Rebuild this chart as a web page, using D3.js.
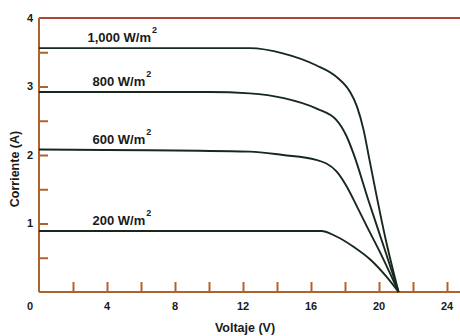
<!DOCTYPE html>
<html>
<head>
<meta charset="utf-8">
<script src="https://cdn.jsdelivr.net/npm/d3@7"></script>
<style>
  body { margin: 0; background: #fff; }
  text { font-family: "Liberation Sans", Arial, sans-serif; font-weight: bold; fill: #1a1a1a; }
</style>
</head>
<body>
<div id="wrapper"></div>
<script>
// irradiance levels, W/m2
const irradianceLabels = ["1,000", "800", "600", "200"]

// I-V curves (voltage in V, current in A)
const voltage1000 = [0, 10.6, 12.4, 14.4, 16.3, 17.5, 18.3, 18.7, 19.1, 19.4, 20.4, 21.15]
const current1000 = [3.56, 3.56, 3.56, 3.48, 3.31, 3.14, 2.92, 2.71, 2.36, 1.98, 0.76, 0]

const voltage800 = [0, 10, 12.4, 14.4, 16.3, 17.5, 18.1, 18.5, 19.4, 20.3, 21.15]
const current800 = [2.92, 2.92, 2.90, 2.83, 2.68, 2.51, 2.27, 2.02, 1.32, 0.65, 0]

const voltage600 = [0, 12.4, 14.35, 16.3, 17.5, 18.1, 18.7, 19.3, 20.1, 21.15]
const current600 = [2.08, 2.05, 2.0, 1.93, 1.76, 1.54, 1.25, 0.95, 0.56, 0]

const voltage200 = [0, 16.6, 17.5, 18.5, 19.5, 20.45, 21.15]
const current200 = [0.89, 0.89, 0.81, 0.66, 0.47, 0.22, 0]

const xTicks = [2, 4, 6, 8, 10, 12, 14, 16, 18, 20, 22, 24]
const xTickLabels = [0, 4, 8, 12, 16, 20, 24]
const yTicks = [0.5, 1, 1.5, 2, 2.5, 3, 3.5]
const yTickLabels = [1, 2, 3, 4]

function drawChart() {
  const dimensions = {
    width: 460,
    height: 336,
    margin: { top: 18, right: 13, bottom: 44, left: 39 },
  }
  dimensions.boundedWidth = dimensions.width - dimensions.margin.left - dimensions.margin.right
  dimensions.boundedHeight = dimensions.height - dimensions.margin.top - dimensions.margin.bottom

  const svg = d3.select("#wrapper")
    .append("svg")
      .attr("width", dimensions.width)
      .attr("height", dimensions.height)

  const bounds = svg.append("g")
      .attr("transform", `translate(${dimensions.margin.left},${dimensions.margin.top})`)

  const xScale = d3.scaleLinear()
    .domain([0, 24])
    .range([0, dimensions.boundedWidth])

  const yScale = d3.scaleLinear()
    .domain([0, 4])
    .range([dimensions.boundedHeight, 0])

  const axisColor = "#b0622e"

  // top border line runs to the edge of the picture
  bounds.append("line")
      .attr("x1", 0)
      .attr("x2", dimensions.width - dimensions.margin.left)
      .attr("y1", yScale(4))
      .attr("y2", yScale(4))
      .attr("stroke", "#a8483a")
      .attr("stroke-width", 2)

  // x axis
  const xAxis = bounds.append("g")
      .attr("transform", `translate(0,${dimensions.boundedHeight})`)
      .call(d3.axisBottom(xScale).tickValues(xTicks).tickSizeInner(-10).tickSizeOuter(0).tickFormat(""))
  xAxis.select(".domain").remove()
  xAxis.selectAll(".tick line").attr("stroke", axisColor).attr("stroke-width", 2)

  bounds.append("line")
      .attr("x1", 0)
      .attr("x2", dimensions.width - dimensions.margin.left)
      .attr("y1", dimensions.boundedHeight)
      .attr("y2", dimensions.boundedHeight)
      .attr("stroke", axisColor)
      .attr("stroke-width", 2)

  bounds.append("g")
    .selectAll("text")
    .data(xTickLabels)
    .join("text")
      .attr("x", d => xScale(d) + (d === 0 ? -9 : 0))
      .attr("y", dimensions.boundedHeight + 18)
      .attr("text-anchor", "middle")
      .style("font-size", "11px")
      .text(d => d)

  // y axis
  const yAxis = bounds.append("g")
      .call(d3.axisLeft(yScale).tickValues(yTicks).tickSizeInner(-9).tickSizeOuter(0).tickFormat(""))
  yAxis.select(".domain").remove()
  yAxis.selectAll(".tick line").attr("stroke", axisColor).attr("stroke-width", 2)

  bounds.append("line")
      .attr("x1", 0)
      .attr("x2", 0)
      .attr("y1", yScale(4))
      .attr("y2", dimensions.boundedHeight)
      .attr("stroke", axisColor)
      .attr("stroke-width", 2)

  bounds.append("g")
    .selectAll("text")
    .data(yTickLabels)
    .join("text")
      .attr("x", -9)
      .attr("y", d => yScale(d))
      .attr("dy", "0.35em")
      .attr("text-anchor", "middle")
      .style("font-size", "11px")
      .text(d => d)

  // axis titles
  svg.append("text")
      .attr("x", 245)
      .attr("y", 332)
      .attr("text-anchor", "middle")
      .style("font-size", "12.5px")
      .text("Voltaje (V)")

  svg.append("text")
      .attr("transform", "translate(19,169) rotate(-90)")
      .attr("text-anchor", "middle")
      .style("font-size", "12.5px")
      .text("Corriente (A)")

  // curves
  const series = [
    { v: voltage1000, i: current1000 },
    { v: voltage800, i: current800 },
    { v: voltage600, i: current600 },
    { v: voltage200, i: current200 },
  ]

  const lineGenerator = d3.line()
    .x(d => xScale(d[0]))
    .y(d => yScale(d[1]))
    .curve(d3.curveMonotoneX)

  bounds.append("g")
    .selectAll("path")
    .data(series)
    .join("path")
      .attr("d", s => lineGenerator(s.v.map((v, k) => [v, s.i[k]])))
      .attr("fill", "none")
      .attr("stroke", "#16291c")
      .attr("stroke-width", 1.9)

  // irradiance labels
  const labels = bounds.append("g")
    .selectAll("text")
    .data(series.map((s, k) => ({ label: irradianceLabels[k], isc: s.i[0] })))
    .join("text")
      .attr("x", (d, k) => xScale(k === 0 ? 2.85 : 3.15))
      .attr("y", d => yScale(d.isc) - 6)
      .style("font-size", "13px")

  labels.append("tspan").text(d => d.label + " W/m")
  labels.append("tspan")
      .attr("dy", -9)
      .attr("dx", 1)
      .style("font-size", "9px")
      .text("2")
}

drawChart()
</script>
</body>
</html>
